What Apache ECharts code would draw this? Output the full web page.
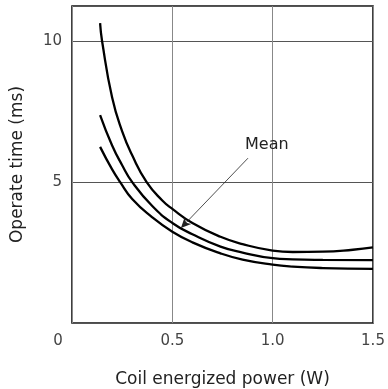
<!DOCTYPE html>
<html>
<head>
<meta charset="utf-8">
<script src="https://cdn.jsdelivr.net/npm/echarts@6/dist/echarts.min.js"></script>
<style>
html, body { margin: 0; padding: 0; background: #fff; }
#chart { width: 388px; height: 389px; }
</style>
</head>
<body>
<div id="chart"></div>
<script>
// values (x: W, y: ms)
const upperX = [0.14, 0.15, 0.2, 0.25, 0.3, 0.372, 0.45, 0.5, 0.6, 0.74, 0.85, 1.0, 1.1, 1.25, 1.4, 1.5];
const upperY = [10.64, 10.0, 8.0, 6.8, 5.95, 5.0, 4.35, 4.05, 3.55, 3.06, 2.8, 2.57, 2.52, 2.53, 2.6, 2.68];

const meanX = [0.14, 0.2, 0.25, 0.3, 0.4, 0.5, 0.6, 0.74, 0.85, 1.0, 1.1, 1.25, 1.5];
const meanY = [7.38, 6.3, 5.6, 5.0, 4.15, 3.55, 3.15, 2.71, 2.5, 2.3, 2.26, 2.24, 2.23];

const lowerX = [0.14, 0.2, 0.24, 0.3, 0.4, 0.5, 0.6, 0.74, 0.85, 1.0, 1.1, 1.25, 1.5];
const lowerY = [6.25, 5.45, 5.0, 4.4, 3.75, 3.24, 2.86, 2.47, 2.25, 2.07, 2.0, 1.95, 1.92];

// annotation: arrow from label to mean curve
const meanLabel = 'Mean';
const arrowFrom = [0.877, 5.85];
const arrowTo = [0.543, 3.37];

const font = 'DejaVu Sans';
const pair = (xs, ys) => xs.map((x, i) => [x, ys[i]]);

const myChart = echarts.init(document.getElementById('chart'));

const curve = (name, data) => ({
	name: name,
	type: 'line',
	smooth: true,
	showSymbol: false,
	data: data,
	lineStyle: { color: '#000', width: 2.3 },
	animation: false
});

let meanSeries = curve('mean', pair(meanX, meanY));
meanSeries.markLine = {
	silent: true,
	animation: false,
	symbol: ['none', 'arrow'],
	symbolSize: [7, 10],
	label: { show: false },
	lineStyle: { color: '#222', width: 0.8, type: 'solid' },
	data: [[{ coord: arrowFrom }, { coord: arrowTo }]]
};

const option = {
	backgroundColor: '#fff',
	grid: {
		left: 72, right: 15, top: 6, bottom: 66,
		outerBoundsMode: 'none',
		show: true,
		borderColor: '#111',
		borderWidth: 1.6
	},
	xAxis: {
		type: 'value',
		min: 0, max: 1.5, interval: 0.5,
		name: 'Coil energized power (W)',
		nameLocation: 'middle',
		nameGap: 48,
		nameTextStyle: { color: '#222', fontSize: 17, fontFamily: font },
		axisLine: { show: false },
		axisTick: { show: false },
		splitLine: { show: true, lineStyle: { color: '#888', width: 1 } },
		axisLabel: {
			margin: 11,
			color: '#444',
			fontSize: 15,
			fontFamily: font,
			formatter: v => v === 0 ? '{o|0}' : v.toFixed(1),
			rich: { o: { padding: [0, 28, 0, 0], color: '#444', fontSize: 15, fontFamily: font } }
		}
	},
	yAxis: {
		type: 'value',
		min: 0, max: 11.25, interval: 5,
		name: 'Operate time (ms)',
		nameLocation: 'middle',
		nameGap: 46,
		nameTextStyle: { color: '#222', fontSize: 17, fontFamily: font },
		axisLine: { show: false },
		axisTick: { show: false },
		splitLine: { show: true, lineStyle: { color: '#555', width: 1 } },
		axisLabel: {
			margin: 10,
			color: '#444',
			fontSize: 15,
			fontFamily: font,
			formatter: v => (v === 5 || v === 10) ? String(v) : ''
		}
	},
	series: [
		curve('upper', pair(upperX, upperY)),
		meanSeries,
		curve('lower', pair(lowerX, lowerY))
	]
};

myChart.setOption(option);

// "Mean" text just above the arrow start
const p = myChart.convertToPixel({ gridIndex: 0 }, arrowFrom);
myChart.setOption({
	graphic: [{
		type: 'text',
		x: p[0] - 3,
		y: p[1] - 21,
		style: { text: meanLabel, fill: '#222', fontSize: 16, fontFamily: font }
	}]
});
</script>
</body>
</html>
